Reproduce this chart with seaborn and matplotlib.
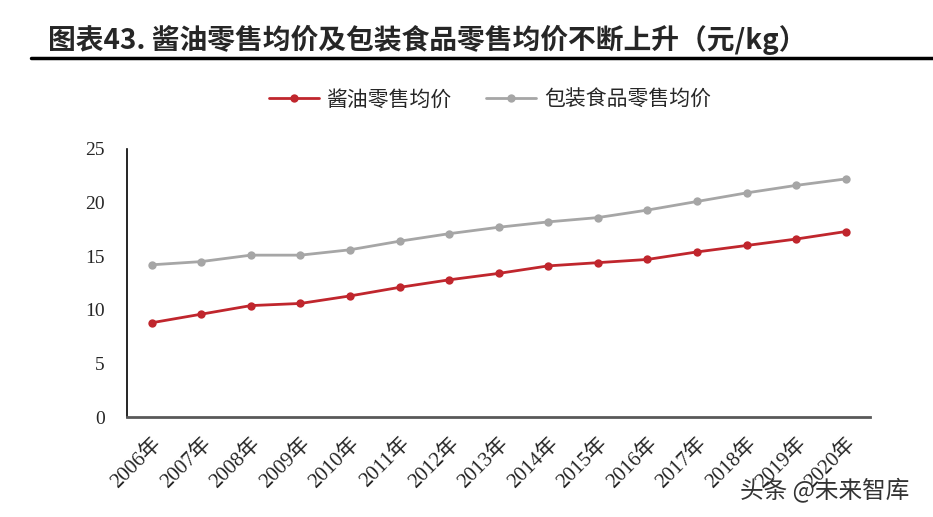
import pandas as pd
import matplotlib.pyplot as plt
import seaborn as sns

# 数据（元/kg）
years = ['2006年', '2007年', '2008年', '2009年', '2010年', '2011年', '2012年', '2013年',
         '2014年', '2015年', '2016年', '2017年', '2018年', '2019年', '2020年']
soy_sauce = [8.8, 9.6, 10.4, 10.6, 11.3, 12.1, 12.8, 13.4, 14.1, 14.4, 14.7, 15.4, 16.0, 16.6, 17.3]
packaged_food = [14.2, 14.5, 15.1, 15.1, 15.6, 16.4, 17.1, 17.7, 18.2, 18.6, 19.3, 20.1, 20.9, 21.6, 22.2]
series_names = ['酱油零售均价', '包装食品零售均价']

df = pd.DataFrame({
    '年份': years * 2,
    '价格': soy_sauce + packaged_food,
    '系列': [series_names[0]] * len(years) + [series_names[1]] * len(years),
})

sns.set_style('white')
plt.rcParams['font.family'] = ['Noto Sans CJK SC', 'DejaVu Sans']

fig = plt.figure(figsize=(9.33, 5.17), dpi=100)
ax = fig.add_axes([0.136, 0.193, 0.797, 0.519])

palette = {series_names[0]: '#C0262D', series_names[1]: '#A6A6A6'}
sns.lineplot(data=df, x='年份', y='价格', hue='系列', palette=palette, marker='o',
             markersize=6, markeredgewidth=0, linewidth=2, sort=False, ax=ax)

ax.set_xlim(-0.5, len(years) - 0.5)
ax.set_ylim(0, 25)
ax.set_xlabel('')
ax.set_ylabel('')

serif = ['Liberation Serif', 'Noto Sans CJK SC']
ax.set_yticks([0, 5, 10, 15, 20, 25])
ax.set_yticklabels(['0', '5', '10', '15', '20', '25'], family=serif, fontsize=14)
ax.set_xticks(range(len(years)))
ax.set_xticklabels(years, family=serif, fontsize=15, rotation=45, ha='right',
                   rotation_mode='anchor')
ax.tick_params(axis='y', direction='in', length=5, width=1, color='black', pad=16)
ax.tick_params(axis='x', length=0, pad=12)

for side in ['top', 'right']:
    ax.spines[side].set_visible(False)
ax.spines['left'].set_color('black')
ax.spines['left'].set_linewidth(1.2)
ax.spines['bottom'].set_color('#595959')
ax.spines['bottom'].set_linewidth(2)

ax.legend_.remove()
handles, labels = ax.get_legend_handles_labels()
fig.legend(handles, labels, loc='center', bbox_to_anchor=(0.525, 0.807), ncol=2,
           frameon=False, handlelength=2.4, columnspacing=1.6, handletextpad=0.4,
           prop={'family': ['Noto Sans CJK SC'], 'size': 15})

fig.text(0.051, 0.922, '图表43. 酱油零售均价及包装食品零售均价不断上升（元/kg）',
         fontsize=20, fontweight='bold', va='center', ha='left')
fig.add_artist(plt.Line2D([0.033, 1.0], [0.888, 0.888], color='black', linewidth=2.5,
                          transform=fig.transFigure))

fig.text(0.793, 0.052, '头条 @未来智库', fontsize=17, color='#333333', ha='left', va='center')

fig.savefig('out.png', dpi=100)
